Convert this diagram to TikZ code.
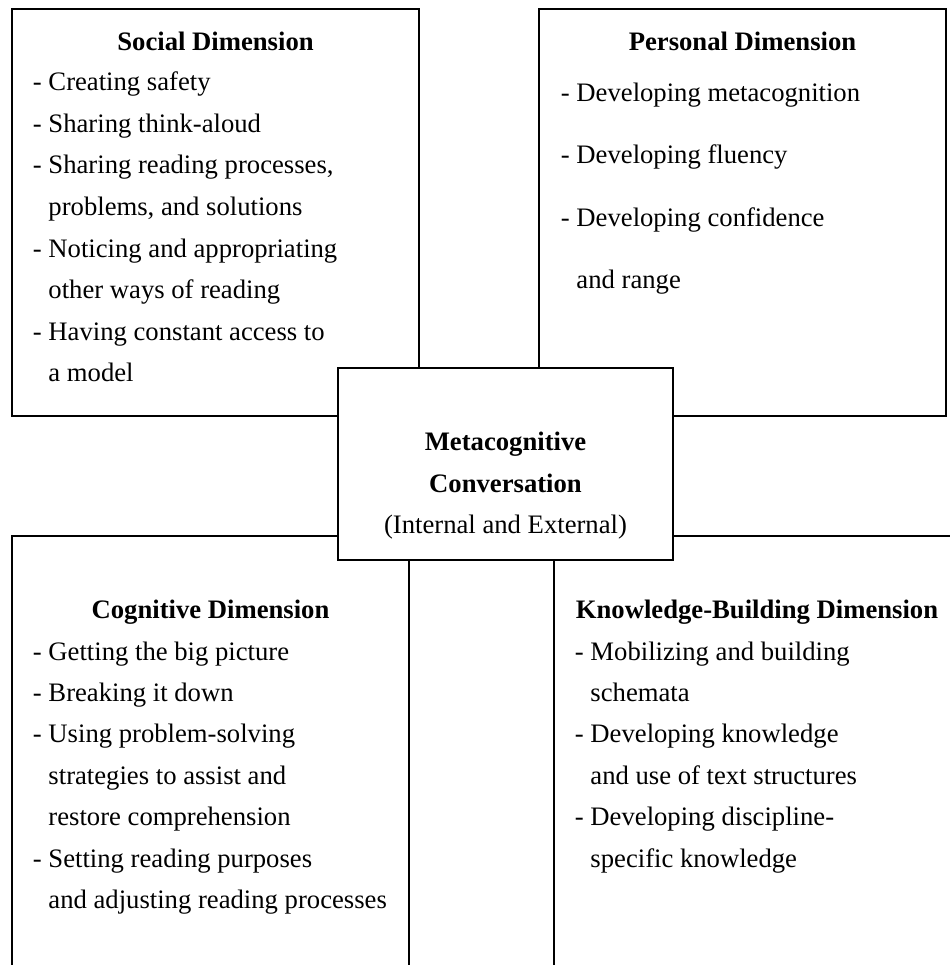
\documentclass[tikz,border=0pt]{standalone}
\usepackage{fontspec}
\setmainfont{Liberation Serif}

\tikzset{every picture/.style={line width=1.4pt}}
\tikzset{
  dimtitle/.style={anchor=base, inner sep=0pt, font=\fontsize{20}{24}\selectfont\bfseries},
  dimitem/.style={anchor=base west, inner sep=0pt, font=\fontsize{20}{24}\selectfont}
}

\begin{document}
\begin{tikzpicture}[x=0.75pt,y=0.75pt,yscale=-1,xscale=1]
\useasboundingbox (0,0) rectangle (950,965);
\clip (0,0) rectangle (950,965);

%Shape: Rectangle [social]
\draw   (12,9) -- (419,9) -- (419,416) -- (12,416) -- cycle ;
%Shape: Rectangle [personal]
\draw   (539,9) -- (946,9) -- (946,416) -- (539,416) -- cycle ;
%Shape: Rectangle [cognitive], runs off the bottom
\draw   (12,536) -- (409,536) -- (409,990) -- (12,990) -- cycle ;
%Shape: Rectangle [knowledge], runs off the right and bottom
\draw   (554,536) -- (970,536) -- (970,990) -- (554,990) -- cycle ;
%Shape: Rectangle [conversation], on top of the others
\draw  [fill=white] (338,368) -- (673,368) -- (673,560) -- (338,560) -- cycle ;

% Text Node
\draw (215.5,50) node (social) [dimtitle] {Social Dimension};
\foreach \t [count=\i] in {{- Creating safety},{- Sharing think-aloud},{- Sharing reading processes,},{\hphantom{- }problems, and solutions},{- Noticing and appropriating},{\hphantom{- }other ways of reading},{- Having constant access to},{\hphantom{- }a model}}
  \draw (32,{90.7+41.6*(\i-1)}) node (social\i) [dimitem] {\t};

% Text Node
\draw (742.5,50) node (personal) [dimtitle] {Personal Dimension};
\foreach \t [count=\i] in {{- Developing metacognition},{- Developing fluency},{- Developing confidence},{\hphantom{- }and range}}
  \draw (560,{101.7+62.2*(\i-1)}) node (personal\i) [dimitem] {\t};

% Text Node
\draw (505.5,450) node (meta) [dimtitle] {Metacognitive};
\draw (505.5,492.5) node (conv) [dimtitle] {Conversation};
\draw (505.5,533.5) node (intext) [dimitem, anchor=base] {(Internal and External)};

% Text Node
\draw (210.5,618.3) node (cognitive) [dimtitle] {Cognitive Dimension};
\foreach \t [count=\i] in {{- Getting the big picture},{- Breaking it down},{- Using problem-solving},{\hphantom{- }strategies to assist and},{\hphantom{- }restore comprehension},{- Setting reading purposes},{\hphantom{- }and adjusting reading processes}}
  \draw (32,{660+41.4*(\i-1)}) node (cognitive\i) [dimitem] {\t};

% Text Node
\draw (757,618.3) node (knowledge) [dimtitle] {Knowledge-Building Dimension};
\foreach \t [count=\i] in {{- Mobilizing and building},{\hphantom{- }schemata},{- Developing knowledge},{\hphantom{- }and use of text structures},{- Developing discipline-},{\hphantom{- }specific knowledge}}
  \draw (574,{660+41.4*(\i-1)}) node (knowledge\i) [dimitem] {\t};

\end{tikzpicture}
\end{document}
